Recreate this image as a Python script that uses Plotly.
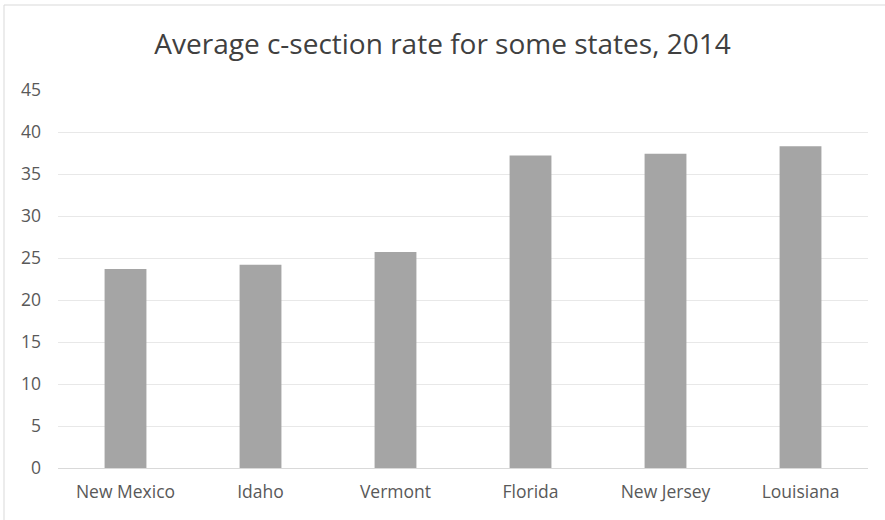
import plotly.graph_objects as go

states = ["New Mexico", "Idaho", "Vermont", "Florida", "New Jersey", "Louisiana"]
rates = [23.7, 24.2, 25.7, 37.2, 37.4, 38.3]
y_ticks = [0, 5, 10, 15, 20, 25, 30, 35, 40, 45]

W, H = 885, 520
L, R, T, B = 58, 17, 90, 52
pw, ph = W - L - R, H - T - B

fig = go.Figure(go.Bar(
    x=states, y=rates,
    marker=dict(color="#a5a5a5", line=dict(width=0)),
    width=0.31,
    hoverinfo="x+y",
))

fig.update_layout(
    width=W, height=H,
    margin=dict(l=L, r=R, t=T, b=B),
    paper_bgcolor="white", plot_bgcolor="white",
    font=dict(family="Open Sans, sans-serif", color="#595959", size=17),
    title=dict(text="Average c-section rate for some states, 2014",
               x=0.5, xanchor="center", y=1 - 44 / H, yanchor="middle",
               font=dict(size=28, color="#404040")),
    showlegend=False,
    bargap=0.69,
)
fig.update_xaxes(showline=True, linecolor="#d9d9d9", linewidth=1,
                 showgrid=False, ticks="", ticklabelstandoff=8,
                 tickfont=dict(size=17.5, color="#595959"))
fig.update_yaxes(range=[0, 45], tickvals=y_ticks, showline=False,
                 showgrid=True, gridcolor="#e8e8e8", gridwidth=1, zeroline=False,
                 ticks="", ticklabelstandoff=16, tickfont=dict(size=17.5, color="#595959"))

# chart border (left and top visible)
fig.add_shape(type="rect", xref="paper", yref="paper",
              x0=(4 - L) / pw, x1=(W + 20 - L) / pw,
              y0=(H - B - (H + 20)) / ph, y1=(H - B - 5) / ph,
              line=dict(color="#d9d9d9", width=1), fillcolor="rgba(0,0,0,0)", layer="below")

fig.write_html("out.html")
